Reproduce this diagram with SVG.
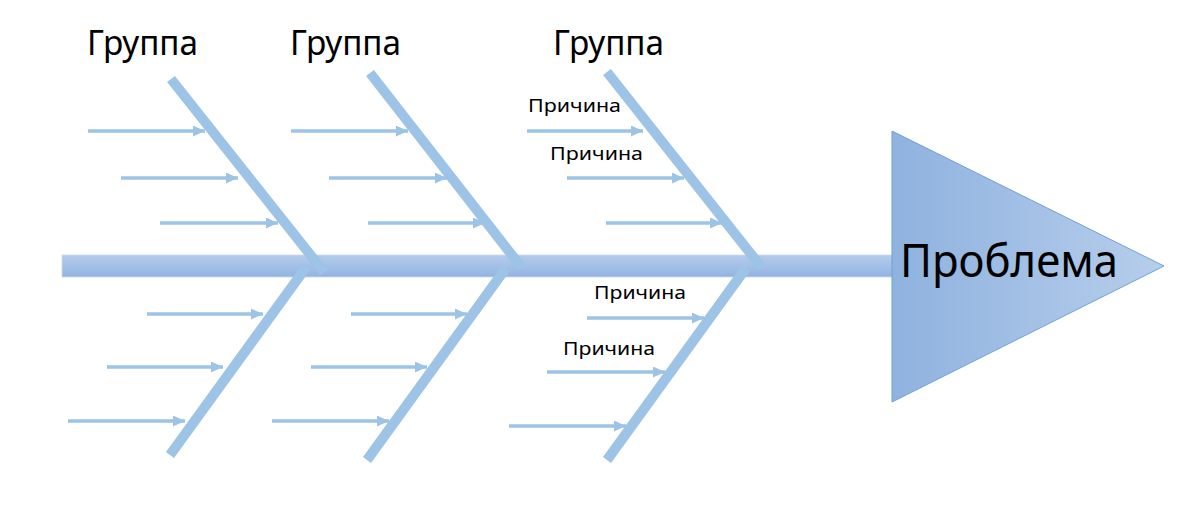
<svg xmlns="http://www.w3.org/2000/svg" width="1200" height="507" viewBox="0 0 1200 507">
<style>
.bone{stroke:#9dc3e6;stroke-width:10;fill:none}
.cause{stroke:#9dc3e6;stroke-width:3.5;fill:none;marker-end:url(#ah)}
.grp{font-family:"Noto Sans","Liberation Sans",sans-serif;font-size:35px;fill:#000}
.lbl{font-family:"Noto Sans","Liberation Sans",sans-serif;font-size:18px;fill:#000}
.prob{font-family:"Noto Sans","Liberation Sans",sans-serif;font-size:45px;fill:#000}
</style>
<defs>
<marker id="ah" markerUnits="userSpaceOnUse" markerWidth="12" markerHeight="11" refX="12" refY="5.5" orient="auto">
<path d="M0,0 L12,5.5 L0,11 z" fill="#9dc3e6"/>
</marker>
<linearGradient id="spineG" x1="0" y1="0" x2="0" y2="1">
<stop offset="0" stop-color="#b5cceb"/>
<stop offset="1" stop-color="#92b4e2"/>
</linearGradient>
<linearGradient id="triG" x1="0" y1="0" x2="1" y2="0">
<stop offset="0" stop-color="#8fb2df"/>
<stop offset="1" stop-color="#b7ceeb"/>
</linearGradient>
</defs>
<rect width="1200" height="507" fill="#fff"/>
<g id="spine">
<rect x="62" y="255" width="831" height="22" fill="url(#spineG)" stroke="#c9daf0" stroke-width="0.8"/>
</g>
<g id="problem">
<polygon points="892,131 1164,266 892,402" fill="url(#triG)" stroke="#6f9fd8" stroke-width="1"/>
<text class="prob" x="900" y="277" textLength="218" lengthAdjust="spacingAndGlyphs">Проблема</text>
</g>
<g id="connectors">
<line class="bone" x1="171" y1="79" x2="324" y2="272"/>
<line class="bone" x1="370" y1="73" x2="522" y2="268"/>
<line class="bone" x1="607" y1="72" x2="762" y2="268"/>
<line class="bone" x1="307" y1="266" x2="170" y2="455"/>
<line class="bone" x1="506" y1="268" x2="367" y2="460"/>
<line class="bone" x1="746" y1="268" x2="607" y2="460"/>
<line class="cause" x1="88" y1="131" x2="205" y2="131"/>
<line class="cause" x1="121" y1="178" x2="238" y2="178"/>
<line class="cause" x1="160" y1="223" x2="278" y2="223"/>
<line class="cause" x1="147" y1="314" x2="263" y2="314"/>
<line class="cause" x1="107" y1="367" x2="223" y2="367"/>
<line class="cause" x1="68" y1="421" x2="185" y2="421"/>
<line class="cause" x1="291" y1="131" x2="408" y2="131"/>
<line class="cause" x1="329" y1="178" x2="447" y2="178"/>
<line class="cause" x1="368" y1="223" x2="485" y2="223"/>
<line class="cause" x1="351" y1="314" x2="467" y2="314"/>
<line class="cause" x1="311" y1="367" x2="427" y2="367"/>
<line class="cause" x1="272" y1="421" x2="389" y2="421"/>
<line class="cause" x1="527" y1="131" x2="643" y2="131"/>
<line class="cause" x1="567" y1="178" x2="684" y2="178"/>
<line class="cause" x1="606" y1="223" x2="722" y2="223"/>
<line class="cause" x1="587" y1="318" x2="704" y2="318"/>
<line class="cause" x1="547" y1="372" x2="665" y2="372"/>
<line class="cause" x1="509" y1="426" x2="626" y2="426"/>
</g>
<g id="group1"><text class="grp" x="87" y="55" textLength="111" lengthAdjust="spacingAndGlyphs">Группа</text></g>
<g id="group2"><text class="grp" x="290" y="55" textLength="111" lengthAdjust="spacingAndGlyphs">Группа</text></g>
<g id="group3"><text class="grp" x="553" y="55" textLength="111" lengthAdjust="spacingAndGlyphs">Группа</text></g>
<g id="cause1"><text class="lbl" x="528" y="112" textLength="93" lengthAdjust="spacingAndGlyphs">Причина</text></g>
<g id="cause2"><text class="lbl" x="550" y="160" textLength="93" lengthAdjust="spacingAndGlyphs">Причина</text></g>
<g id="cause3"><text class="lbl" x="594" y="299" textLength="92" lengthAdjust="spacingAndGlyphs">Причина</text></g>
<g id="cause4"><text class="lbl" x="563" y="355" textLength="92" lengthAdjust="spacingAndGlyphs">Причина</text></g>
</svg>
